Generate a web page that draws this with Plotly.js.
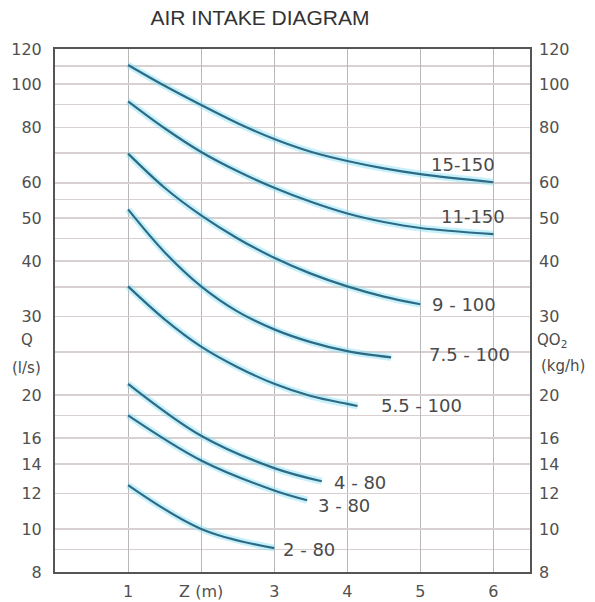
<!DOCTYPE html>
<html>
<head>
<meta charset="utf-8">
<script src="https://cdn.plot.ly/plotly-3.0.1.min.js"></script>
<style>
  html, body { margin: 0; padding: 0; background: #ffffff; }
  #chart { width: 595px; height: 602px; }
</style>
</head>
<body>
<div id="chart"></div>
<script>
// ---- data ----
const curveNames = ['15-150', '11-150', '9 - 100', '7.5 - 100', '5.5 - 100', '4 - 80', '3 - 80', '2 - 80'];

const z_15_150 = [1, 1.5, 2, 2.5, 3, 3.5, 4, 4.5, 5, 6];
const q_15_150 = [110.5, 99.2, 89.8, 81.7, 75.3, 70.5, 67.2, 64.7, 62.8, 60.2];

const z_11_150 = [1, 1.5, 2, 2.5, 3, 3.5, 4, 4.5, 5, 6];
const q_11_150 = [91.5, 79.6, 70.4, 63.7, 58.5, 54.4, 51.2, 49.0, 47.5, 46.0];

const z_9_100 = [1, 1.5, 2, 2.5, 3, 3.5, 4, 4.5, 5];
const q_9_100 = [69.8, 58.5, 50.7, 45.0, 40.7, 37.5, 35.1, 33.3, 32.0];

const z_7_5_100 = [1, 1.5, 2, 2.5, 3, 3.5, 4, 4.6];
const q_7_5_100 = [52.3, 41.9, 35.1, 30.8, 28.1, 26.3, 25.1, 24.3];

const z_5_5_100 = [1, 1.5, 2, 2.5, 3, 3.5, 4, 4.14];
const q_5_5_100 = [35.1, 29.6, 25.7, 23.1, 21.2, 19.9, 19.1, 18.9];

const z_4_80 = [1, 2, 3, 3.65];
const q_4_80 = [21.2, 16.2, 13.7, 12.8];

const z_3_80 = [1, 2, 3, 3.45];
const q_3_80 = [18.0, 14.25, 12.2, 11.6];

const z_2_80 = [1, 2, 3];
const q_2_80 = [12.55, 10.0, 9.05];

const xTickVals = [1, 2, 3, 4, 5, 6];
const xTickText = ['1', 'Z (m)', '3', '4', '5', '6'];
const yTickVals = [8, 10, 12, 14, 16, 20, 30, 40, 50, 60, 80, 100, 120];
const yTickText = ['8', '10', '12', '14', '16', '20', '30', '40', '50', '60', '80', '100', '120'];
const yMinorGrid = [9, 18, 25, 35, 45, 55, 70, 90, 110];

// ---- build ----
const zs = [z_15_150, z_11_150, z_9_100, z_7_5_100, z_5_5_100, z_4_80, z_3_80, z_2_80];
const qs = [q_15_150, q_11_150, q_9_100, q_7_5_100, q_5_5_100, q_4_80, q_3_80, q_2_80];

// label placement relative to each curve end (pixels)
const labelStyle = [
  {xanchor: 'center', xshift: -30, yshift: 18},
  {xanchor: 'center', xshift: -20, yshift: 18},
  {xanchor: 'left', xshift: 10, yshift: 0},
  {xanchor: 'left', xshift: 36, yshift: 3},
  {xanchor: 'left', xshift: 21, yshift: 0},
  {xanchor: 'left', xshift: 10, yshift: -1},
  {xanchor: 'left', xshift: 9, yshift: -5},
  {xanchor: 'left', xshift: 7, yshift: -1}
];

const traces = [];
// halo (under) on y
zs.forEach((z, i) => {
  traces.push({
    x: z, y: qs[i], type: 'scatter', mode: 'lines', yaxis: 'y',
    line: {color: 'rgba(130,225,245,0.45)', width: 7, shape: 'spline', smoothing: 1},
    hoverinfo: 'skip', showlegend: false
  });
});
// core lines on y2 (drawn above)
zs.forEach((z, i) => {
  traces.push({
    x: z, y: qs[i], type: 'scatter', mode: 'lines', yaxis: 'y2', name: curveNames[i],
    line: {color: '#2c6a86', width: 2.2, shape: 'spline', smoothing: 1},
    showlegend: false
  });
});

const annotations = curveNames.map((name, i) => {
  const z = zs[i], q = qs[i];
  const s = labelStyle[i];
  return {
    x: z[z.length - 1], y: Math.log10(q[q.length - 1]), xref: 'x', yref: 'y',
    text: name, showarrow: false, xanchor: s.xanchor, yanchor: 'middle',
    xshift: s.xshift, yshift: s.yshift,
    font: {family: 'DejaVu Sans, sans-serif', size: 18, color: '#4a4a4a'}
  };
});

const sideFont = {family: 'DejaVu Sans, sans-serif', size: 15, color: '#4a4a4a'};
annotations.push(
  {x: -0.059, y: 0.4436, xref: 'paper', yref: 'paper', text: 'Q', showarrow: false, xanchor: 'center', yanchor: 'middle', font: sideFont},
  {x: -0.059, y: 0.390, xref: 'paper', yref: 'paper', text: '(l/s)', showarrow: false, xanchor: 'center', yanchor: 'middle', font: sideFont},
  {x: 1.047, y: 0.4417, xref: 'paper', yref: 'paper', text: 'QO<sub>2</sub>', showarrow: false, xanchor: 'center', yanchor: 'middle', font: sideFont},
  {x: 1.069, y: 0.394, xref: 'paper', yref: 'paper', text: '(kg/h)', showarrow: false, xanchor: 'center', yanchor: 'middle', font: sideFont}
);

const yRange = [Math.log10(8), Math.log10(120)];
const tickFont = {family: 'DejaVu Sans, sans-serif', size: 16, color: '#505050'};

const layout = {
  width: 595, height: 602,
  margin: {l: 55, r: 65, t: 49, b: 30, pad: 0},
  paper_bgcolor: '#ffffff', plot_bgcolor: '#ffffff',
  showlegend: false,
  title: {
    text: 'AIR INTAKE DIAGRAM',
    x: 0.437, xref: 'container', xanchor: 'center',
    y: 0.970, yref: 'container', yanchor: 'middle',
    font: {family: 'Liberation Sans, Arial, sans-serif', size: 21, color: '#333333'}
  },
  xaxis: {
    range: [0, 6.5], tickmode: 'array', tickvals: xTickVals, ticktext: xTickText,
    showgrid: true, gridcolor: '#b8b8b8', gridwidth: 1, zeroline: false,
    showline: true, linecolor: '#555555', linewidth: 2, mirror: true,
    ticks: '', tickfont: tickFont, ticklabelstandoff: 4, fixedrange: true
  },
  yaxis: {
    type: 'log', range: yRange, tickmode: 'array', tickvals: yTickVals, ticktext: yTickText,
    showgrid: true, gridcolor: '#d9d1d1', gridwidth: 1.5,
    minor: {tickmode: 'array', tickvals: yMinorGrid, showgrid: true, gridcolor: '#d9d1d1', gridwidth: 1.5, ticks: ''},
    showline: true, linecolor: '#555555', linewidth: 2, mirror: true, zeroline: false,
    ticks: '', tickfont: tickFont, ticklabelstandoff: 8, fixedrange: true
  },
  yaxis2: {
    type: 'log', range: yRange, overlaying: 'y', side: 'right',
    tickmode: 'array', tickvals: yTickVals, ticktext: yTickText,
    showgrid: false, showline: false, zeroline: false,
    ticks: '', tickfont: tickFont, ticklabelstandoff: 8, fixedrange: true
  },
  annotations: annotations
};

Plotly.newPlot('chart', traces, layout, {displayModeBar: false, staticPlot: true});
</script>
</body>
</html>
